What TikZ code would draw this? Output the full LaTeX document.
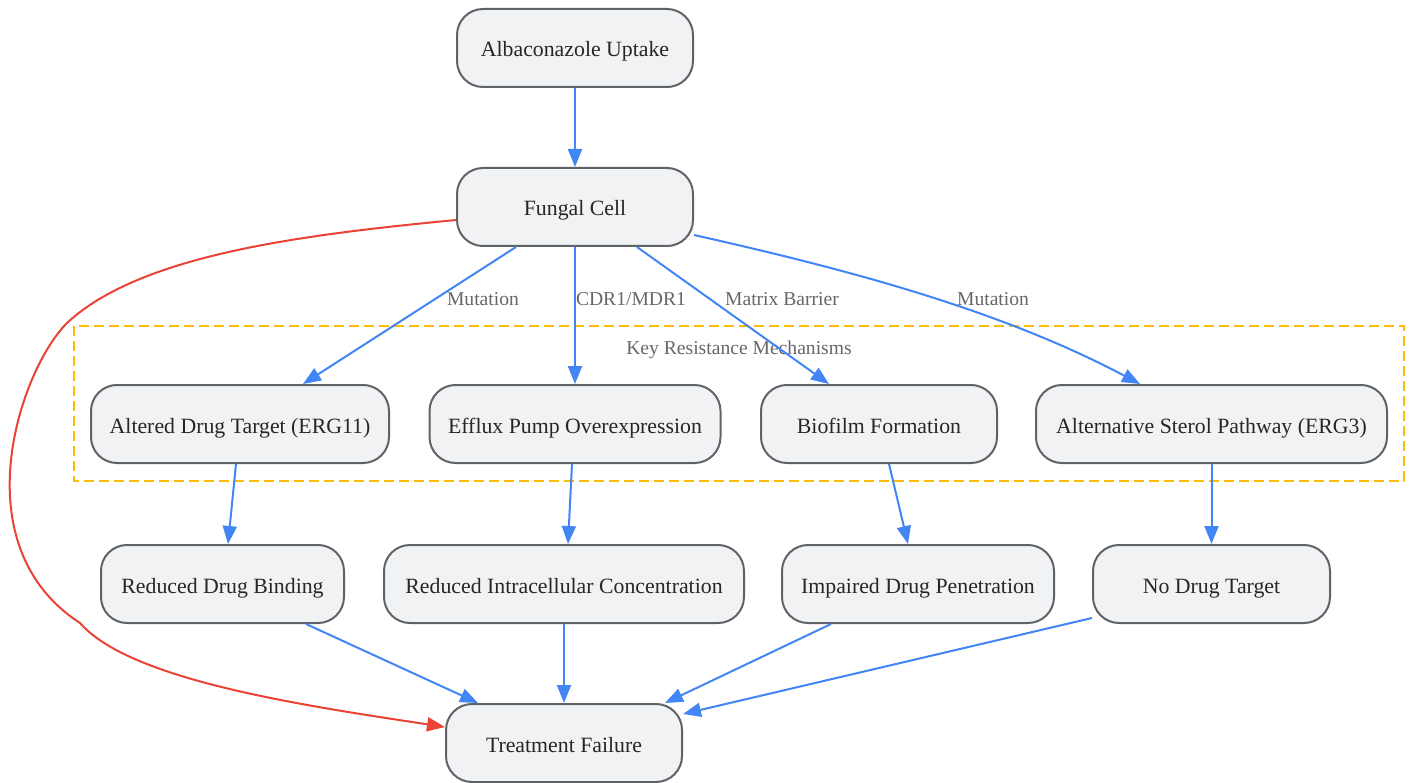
\documentclass[tikz,border=0pt]{standalone}
\usepackage{fontspec}
\setmainfont{Liberation Serif}
\usetikzlibrary{arrows.meta,calc}
\definecolor{nodefill}{HTML}{F1F2F4}
\definecolor{nodeborder}{HTML}{5F6368}
\definecolor{nodetext}{HTML}{262626}
\definecolor{labelgray}{HTML}{666666}
\definecolor{edgeblue}{HTML}{4285F4}
\definecolor{edgered}{HTML}{EA4335}
\definecolor{clusterorange}{HTML}{FBBC04}
\begin{document}
\begin{tikzpicture}[x=1pt,y=-1pt,
  box/.style={draw=nodeborder, line width=2pt, fill=nodefill, rounded corners=26pt,
    minimum height=78pt, text=nodetext, font=\fontsize{21.8}{26}\selectfont, inner sep=0pt,
    text height=22pt, text depth=4pt},
  edge/.style={draw=edgeblue, line width=2pt, -{Triangle[length=18pt,width=14pt]}},
  redge/.style={draw=edgered, line width=2pt, -{Triangle[length=18pt,width=14pt]}},
  lbl/.style={text=labelgray, font=\fontsize{19.6}{23}\selectfont, inner sep=0pt,
    text height=16pt, text depth=4pt},
  cluster/.style={draw=clusterorange, line width=2pt, dash pattern=on 10pt off 5pt}]
\useasboundingbox (0,0) rectangle (1410,783);
% cluster
\draw[cluster] (74,326) rectangle (1404,481);
\node[lbl] (clbl) at (739,348) {Key Resistance Mechanisms};
% nodes
\node[box, minimum width=236pt] (up) at (575,48) {Albaconazole Uptake};
\node[box, minimum width=236pt] (fc) at (575,207) {Fungal Cell};
\node[box, minimum width=298pt] (alt) at (240,424) {Altered Drug Target (ERG11)};
\node[box, minimum width=291pt] (eff) at (575,424) {Efflux Pump Overexpression};
\node[box, minimum width=236pt] (bio) at (879,424) {Biofilm Formation};
\node[box, minimum width=351pt] (erg) at (1211.5,424) {Alternative Sterol Pathway (ERG3)};
\node[box, minimum width=243pt] (rdb) at (222.5,584) {Reduced Drug Binding};
\node[box, minimum width=360pt] (ric) at (564,584) {Reduced Intracellular Concentration};
\node[box, minimum width=272pt] (idp) at (918,584) {Impaired Drug Penetration};
\node[box, minimum width=237pt] (ndt) at (1211.5,584) {No Drug Target};
\node[box, minimum width=236pt] (tf) at (564,743) {Treatment Failure};
% edge labels
\node[lbl] (l1) at (483,299.5) {Mutation};
\node[lbl] (l2) at (631,299.5) {CDR1/MDR1};
\node[lbl] (l3) at (782,299.5) {Matrix Barrier};
\node[lbl] (l4) at (993,299.5) {Mutation};
% edges
\draw[edge] (up) -- (fc);
\draw[edge] ([xshift=-59pt]fc.south) -- ([xshift=63pt]alt.north);
\draw[edge] (fc.south) -- (eff.north);
\draw[edge] ([xshift=62pt]fc.south) -- ([xshift=-50pt]bio.north);
\draw[edge] ([yshift=-28pt]fc.east) .. controls (850,270) and (1000,310) .. ([xshift=-71.5pt]erg.north);
\draw[edge] ([xshift=-4pt]alt.south) -- ([xshift=5.5pt]rdb.north);
\draw[edge] ([xshift=-3pt]eff.south) -- ([xshift=4pt]ric.north);
\draw[edge] ([xshift=10pt]bio.south) -- ([xshift=-10pt]idp.north);
\draw[edge] (erg.south) -- (ndt.north);
\draw[edge] ([xshift=83.5pt]rdb.south) -- ([xshift=-86pt]tf.north);
\draw[edge] (ric.south) -- (tf.north);
\draw[edge] ([xshift=-87pt]idp.south) -- ([xshift=101pt]tf.north);
\draw[edge] ([yshift=-34pt]ndt.west) -- ([yshift=29pt]tf.east);
\draw[redge] ([yshift=-13pt]fc.west) .. controls (300,235) and (140,255) .. (67,323)
  .. controls (20,370) and (-40,545) .. (80,623)
  .. controls (130,680) and (300,705) .. ([yshift=16pt]tf.west);
\end{tikzpicture}
\end{document}
